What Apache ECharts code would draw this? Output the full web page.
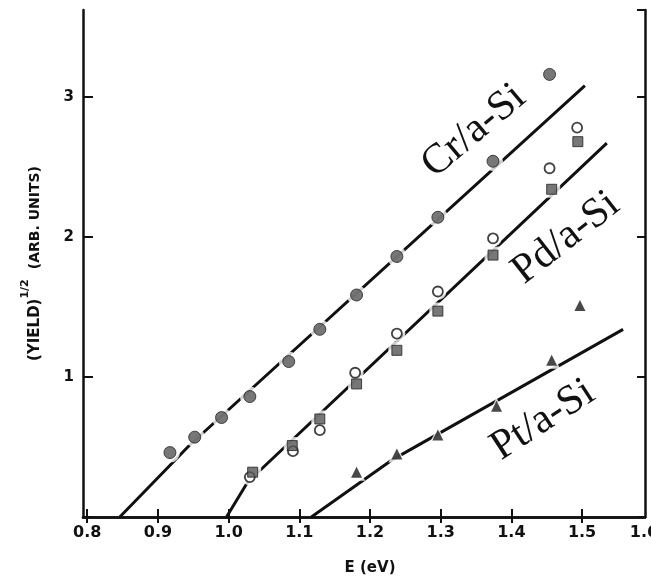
<!DOCTYPE html>
<html>
<head>
<meta charset="utf-8">
<script src="https://cdn.jsdelivr.net/npm/echarts@6.0.0/dist/echarts.min.js"></script>
<style>
  html, body { margin: 0; padding: 0; background: #fff; }
  #chart { width: 651px; height: 577px; }
</style>
</head>
<body>
<div id="chart"></div>
<script>
// photon energy E (eV) vs (yield)^1/2
const crE = [0.917, 0.952, 0.990, 1.030, 1.085, 1.129, 1.181, 1.238, 1.296, 1.374, 1.454];
const crY = [0.46, 0.57, 0.71, 0.86, 1.11, 1.34, 1.585, 1.86, 2.14, 2.54, 3.16];

const pdSqE = [1.034, 1.090, 1.129, 1.181, 1.238, 1.296, 1.374, 1.457, 1.494];
const pdSqY = [0.32, 0.51, 0.70, 0.95, 1.19, 1.47, 1.87, 2.34, 2.68];

const pdOpE = [1.030, 1.091, 1.129, 1.179, 1.238, 1.296, 1.374, 1.454, 1.493];
const pdOpY = [0.285, 0.47, 0.62, 1.03, 1.31, 1.61, 1.99, 2.49, 2.78];

const ptE = [1.181, 1.238, 1.296, 1.379, 1.457, 1.497];
const ptY = [0.32, 0.45, 0.585, 0.79, 1.12, 1.51];

// fitted lines
const crFitE = [0.846, 0.945, 1.504];
const crFitY = [0, 0.514, 3.08];
const pdFitE = [0.997, 1.027, 1.535];
const pdFitY = [0, 0.25, 2.67];
const ptFitE = [1.117, 1.232, 1.558];
const ptFitY = [0, 0.41, 1.34];

const xTicks = [0.8, 0.9, 1.0, 1.1, 1.2, 1.3, 1.4, 1.5];
const xTickText = ['0.8', '0.9', '1.0', '1.1', '1.2', '1.3', '1.4', '1.5'];

const pairs = (xs, ys) => xs.map((x, i) => [x, ys[i]]);

const ink = '#111';
const axisFont = 'DejaVu Sans';

const chart = echarts.init(document.getElementById('chart'));

function fitLine(xs, ys) {
  return {
    type: 'line', data: pairs(xs, ys), showSymbol: false, silent: true, z: 1,
    lineStyle: { color: ink, width: 3 }
  };
}
// white ring so the line breaks around each marker, like the original
function halo(xs, ys, symbol, size) {
  return {
    type: 'scatter', data: pairs(xs, ys), symbol: symbol, symbolSize: size, silent: true, z: 2,
    itemStyle: { color: '#fff', borderWidth: 0 }
  };
}

const option = {
  animation: false,
  backgroundColor: '#fff',
  grid: { left: 83, right: 6, top: 10, bottom: 60, outerBoundsMode: 'none' },
  xAxis: [{
    type: 'value', min: 0.794, max: 1.589,
    name: 'E (eV)', nameLocation: 'middle', nameGap: 44,
    nameTextStyle: { color: ink, fontFamily: axisFont, fontWeight: 'bold', fontSize: 15, padding: [0, 0, 0, 12] },
    axisLine: { show: true, lineStyle: { color: ink, width: 2.5 } },
    axisTick: { show: true, inside: true, length: 8, customValues: xTicks, lineStyle: { color: ink, width: 2 } },
    axisLabel: {
      customValues: xTicks, margin: 8, color: ink, fontFamily: axisFont, fontWeight: 'bold', fontSize: 16,
      formatter: v => xTickText[xTicks.findIndex(t => Math.abs(t - v) < 1e-6)] || ''
    },
    splitLine: { show: false }
  }, {
    type: 'value', position: 'top', min: 0.794, max: 1.589,
    axisLine: { show: true, lineStyle: { color: ink, width: 2.5 } },
    axisTick: { show: true, inside: true, length: 6, customValues: xTicks, lineStyle: { color: ink, width: 2 } },
    axisLabel: { show: false },
    splitLine: { show: false }
  }],
  yAxis: [{
    type: 'value', min: 0, max: 3.62, interval: 1,
    name: '{a|(YIELD)}{s|1/2}   {b|(ARB. UNITS)}',
    nameLocation: 'middle', nameRotate: 90, nameGap: 33,
    nameTextStyle: {
      color: ink,
      rich: {
        a: { fontFamily: axisFont, fontWeight: 'bold', fontSize: 15, lineHeight: 30, color: ink },
        s: { fontFamily: axisFont, fontWeight: 'bold', fontSize: 11, lineHeight: 12, verticalAlign: 'top', color: ink },
        b: { fontFamily: axisFont, fontWeight: 'bold', fontSize: 14, lineHeight: 30, color: ink }
      }
    },
    axisLine: { show: true, lineStyle: { color: ink, width: 2.5 } },
    axisTick: { show: true, inside: true, length: 10, lineStyle: { color: ink, width: 2 } },
    axisLabel: {
      margin: 9, color: ink, fontFamily: axisFont, fontWeight: 'bold', fontSize: 15,
      showMaxLabel: false,
      formatter: v => (v === 0 ? '' : String(v))
    },
    splitLine: { show: false }
  }, {
    type: 'value', position: 'right', min: 0, max: 3.62, interval: 1,
    axisLine: { show: true, lineStyle: { color: ink, width: 2.5 } },
    axisTick: { show: true, inside: true, length: 8, lineStyle: { color: ink, width: 2 } },
    axisLabel: { show: false },
    splitLine: { show: false }
  }],
  series: [
    fitLine(crFitE, crFitY),
    fitLine(pdFitE, pdFitY),
    fitLine(ptFitE, ptFitY),
    halo(crE, crY, 'circle', 20),
    halo(pdOpE, pdOpY, 'circle', 17),
    halo(pdSqE, pdSqY, 'rect', 17),
    halo(ptE, ptY, 'triangle', 17),
    {
      name: 'Cr/a-Si', type: 'scatter', data: pairs(crE, crY), symbol: 'circle', symbolSize: 12, z: 3,
      itemStyle: { color: '#555', borderColor: '#222', borderWidth: 1 }
    },
    {
      name: 'Pd/a-Si open', type: 'scatter', data: pairs(pdOpE, pdOpY), symbol: 'circle', symbolSize: 10, z: 3,
      itemStyle: { color: '#fff', borderColor: ink, borderWidth: 1.8 }
    },
    {
      name: 'Pd/a-Si', type: 'scatter', data: pairs(pdSqE, pdSqY), symbol: 'rect', symbolSize: 10, z: 4,
      itemStyle: { color: '#555', borderColor: '#222', borderWidth: 1 }
    },
    {
      name: 'Pt/a-Si', type: 'scatter', data: pairs(ptE, ptY), symbol: 'triangle', symbolSize: 11, z: 3,
      itemStyle: { color: '#1a1a1a' }
    }
  ],
  graphic: [
    {
      type: 'text', x: 474, y: 131, rotation: 40 * Math.PI / 180, z: 10,
      style: { text: 'Cr/a-Si', fontFamily: 'Liberation Serif', fontSize: 42, fill: ink, align: 'center', verticalAlign: 'middle' }
    },
    {
      type: 'text', x: 566, y: 238, rotation: 38 * Math.PI / 180, z: 10,
      style: { text: 'Pd/a-Si', fontFamily: 'Liberation Serif', fontSize: 42, fill: ink, align: 'center', verticalAlign: 'middle' }
    },
    {
      type: 'text', x: 543, y: 420, rotation: 33 * Math.PI / 180, z: 10,
      style: { text: 'Pt/a-Si', fontFamily: 'Liberation Serif', fontSize: 42, fill: ink, align: 'center', verticalAlign: 'middle' }
    },
    {
      type: 'text', x: 644, y: 533, z: 10,
      style: { text: '1.6', fontFamily: axisFont, fontWeight: 'bold', fontSize: 16, fill: ink, align: 'center', verticalAlign: 'middle' }
    }
  ]
};

chart.setOption(option);
</script>
</body>
</html>
